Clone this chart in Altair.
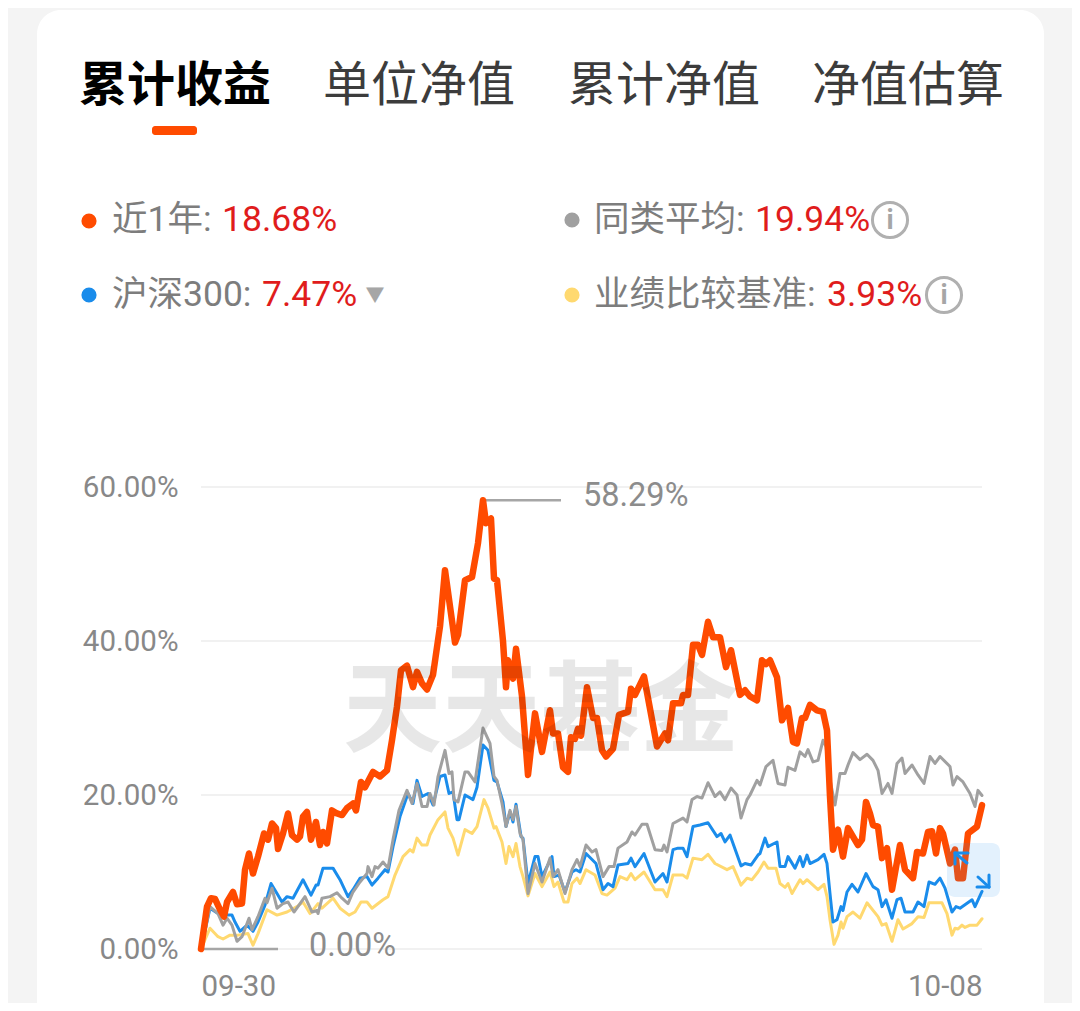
import altair as alt
import pandas as pd

orange_t = [0,6,10,14,19,23,26,32,36,41,44,48,52,57,63,67,71,75,77,82,87,91,96,99,102,106,110,115,119,122,126,131,136,141,146,152,155,160,164,172,179,186,191,196,200,206,212,216,221,226,232,239,244,249,254,257,264,271,277,282,285,290,293,296,302,305,307,312,315,321,327,334,341,349,352,357,362,367,370,374,377,380,386,392,396,401,405,412,418,427,430,434,443,456,464,467,472,480,482,487,492,497,501,507,512,519,525,530,539,544,549,556,561,565,569,576,581,587,592,596,601,604,609,616,622,626,629,632,637,642,647,652,657,661,665,669,672,677,681,686,691,699,704,712,716,722,727,731,735,739,742,749,754,757,762,767,776,781]
orange_v = [0,5.5,6.6,6.5,5.1,4.2,6.1,7.4,5.8,5.9,10.3,12.4,9.8,12,15,14.2,16.3,15.7,13,15,17.6,14.8,14.2,14.6,17.2,17.8,14.2,16.5,13.5,15.2,13.7,18,17.6,17.4,18.3,18.9,18,21.7,21,23,22.4,23.2,27.1,31.5,36.2,36.8,34,36,34.5,33.7,35.6,41.9,49.2,44.5,39.8,40.8,47.9,48.3,52.7,58.29,55.3,55.9,48.1,47.9,40,34,37.5,35.1,39,32.8,22.6,30.6,25.6,31,28,28,23.6,23,27.5,27.3,28.6,27.7,34,30,30,25.8,25,26,30.4,30.8,33.8,33,35.4,26.3,28,27.1,31.9,31.9,33,33,39.5,39.5,38.2,42.5,40.5,40.5,36.6,38.8,33,33.6,32.8,32.3,37.5,37,37.5,35.3,29.7,31.3,26.9,26.7,30,30,31.7,31,30.8,28.4,19.8,12.9,15.5,12,15.7,14.6,13.5,14.2,19.1,17.6,16.1,15.9,11.8,13.1,7.7,13.5,10.3,9.2,12.6,12.4,15.2,15.3,12.4,15.7,15,11.1,12.9,9.2,9.2,15,15.9,18.68]

gray_t = [0,9,17,22,26,31,36,41,48,51,57,64,66,71,76,82,87,93,104,111,116,117,121,129,136,141,147,152,159,166,167,171,174,177,182,187,192,198,206,211,216,221,226,229,233,237,244,248,251,253,257,264,267,274,282,289,293,296,301,305,309,312,315,319,322,327,334,341,349,352,357,364,371,376,379,385,391,395,402,408,413,417,426,431,434,441,446,454,461,463,466,472,482,486,491,496,501,507,514,519,524,530,536,540,546,549,556,559,565,572,577,584,587,594,599,604,607,612,617,622,625,629,634,639,644,647,652,659,666,672,677,681,687,691,696,701,704,711,717,723,729,734,739,749,752,756,762,769,774,777,781]
gray_v = [0,5.5,4.6,3.1,4,3.1,1,1.6,4,2.5,4.2,6.6,6,7.9,5.3,5.9,6.1,4.8,6.8,4.8,5,4.6,6.6,6.8,7.3,6.6,5.9,7.4,8.7,9.8,10.7,9.4,10.7,10.5,11.3,10.5,14.2,18,20.6,18.9,21.5,18.5,18.5,20.2,18.7,22.4,25.8,22.8,23,19.4,19.1,23,23,21.7,28.7,26.7,22.4,21.9,18.9,15.9,18,16.8,18.5,15,14.2,7.2,11.1,8.7,11.8,9.4,10.3,7.2,10.3,11.6,10.7,13.5,12.6,12.9,9.4,10.7,10.7,13.1,13.9,15.2,14.8,16.2,16.2,12.9,12.8,13.5,12.6,16.3,17,16.5,19.4,19.8,19.6,21.6,19.8,20.4,19.4,20.9,20,17,19.4,20,21.9,21.3,23.7,24.5,21.5,21.3,23.6,23.2,25.6,25,25.9,24.3,24.5,27.1,26.3,22,18.7,22.8,22.8,23.9,25.5,24.6,25.3,24.5,23.2,20.2,21.5,20.2,24.1,24.8,22.8,23.9,22.6,21.5,25,24.1,25,23.7,21.3,22.4,21.7,20.2,18.5,20.6,19.94]

blue_t = [0,9,17,24,31,34,39,46,52,57,64,70,76,81,86,92,102,110,115,117,122,132,139,147,152,159,166,171,177,184,187,192,199,207,212,216,221,227,232,239,244,248,252,256,258,264,272,276,282,287,293,296,302,305,309,312,315,320,322,327,334,337,341,351,353,358,364,371,375,379,385,395,402,407,412,417,427,430,434,443,454,462,466,472,477,482,486,492,499,507,516,520,524,529,540,544,550,557,559,564,567,576,579,584,587,594,599,602,606,609,617,623,626,629,632,636,640,642,646,651,657,665,672,677,681,685,691,696,700,704,712,717,723,728,734,739,744,751,755,759,771,774,781]
blue_v = [0,5.3,4.6,4.4,4.4,3.5,2.3,3.1,2.3,3.5,5.7,8.5,7.2,6.1,6.8,6.6,9,7,8.3,8.3,10.5,10.5,9,6.8,7.7,9.2,9.4,8.3,9.2,10.3,10,13.3,17.2,20.2,18.9,21.9,19.8,20.2,18.7,22.4,22.6,20.2,20.4,16.8,16.8,20,19.4,21,26.5,25.8,21.9,21.7,19.1,15.9,17.8,16.5,18.8,14.6,14.4,8.5,12,12,9.4,12,9.4,9.6,7.4,10,10.3,10,12.4,11.1,7.7,8.5,8.1,10.9,11.1,11.8,10.7,12.4,8.7,9.8,8.7,12.9,13.1,13.1,12,15.9,16.1,16.4,14.6,15,13.9,14.8,10.8,11.1,10.9,12.2,12.4,14.4,13.3,13.9,10.7,10.7,12,10.5,12,10.7,12.2,11.1,11.6,12.3,11.1,7.2,3.5,3.8,5.5,5,7.4,8.4,7.4,9.8,8.1,7.7,5.5,6.4,4,6.4,6.6,4.8,4.8,6.1,5.5,8.7,8.4,9.2,7.9,4.8,5.5,5.3,6.4,5.5,7.47]

yellow_t = [0,9,17,22,29,37,47,52,57,66,76,86,96,102,109,117,121,132,139,148,154,160,166,171,182,187,194,202,209,212,216,221,226,229,237,244,247,252,257,264,271,276,283,287,293,295,301,305,308,312,315,319,322,327,334,341,349,353,357,363,367,371,376,379,385,394,401,406,414,419,426,430,434,443,454,462,466,472,482,486,492,501,507,514,526,532,540,546,551,557,563,567,575,579,584,587,591,599,602,606,617,623,626,629,633,637,640,642,646,652,659,666,677,681,685,691,697,702,711,717,723,728,741,746,751,754,757,761,764,769,776,781]
yellow_v = [0,2.7,1.6,1.3,1.8,1.8,2,0.5,2,5.1,4.4,4.8,5.5,6.1,4.6,5.9,5.3,6.6,5.3,4.4,4.8,6.1,6.1,5.3,6.4,6.8,9.6,12,12.9,12.6,14.4,13.5,13.5,14.8,16.8,17.8,15.7,14.4,12.2,15.5,15,15.9,19.4,18.3,15.7,15.9,13.9,11.1,13.3,12,13.7,10.7,9.4,6.9,9.8,8.1,10,8.1,8.7,6.1,6.1,8.5,9.2,8.5,10.3,9.6,7.2,7,7.9,9.4,9,9.8,9,10,7.7,7.7,6.8,9.6,9.6,9.2,11.8,11.6,12.3,11.1,10.3,10.7,8.3,9.2,9,10,11.3,10.5,10.5,8.5,8,8.5,7.2,9,8.5,9,7.7,8.4,6.8,3.8,0.6,1.8,3.5,2.7,4.2,4.8,4,6,4.2,3.1,3.3,1,3.8,2.6,3.3,4.2,4.1,6,6,4.6,1.8,2.7,2.6,3.1,2.8,3.1,3.1,3.93]

grid_values = [0, 20, 40, 60]
tabs = ["累计收益", "单位净值", "累计净值", "净值估算"]
legend_names = ["近1年:", "沪深300:", "同类平均:", "业绩比较基准:"]
legend_values = ["18.68%", "7.47%", "19.94%", "3.93%"]
x_labels = ["09-30", "10-08"]

OX, OY = 201, 487          # screen position of the plot origin
W, H = 781, 462
CJK = "Roboto, 'Noto Sans CJK SC', sans-serif"
ORANGE, BLUE, GRAY, YELLOW = "#ff4b00", "#1a8ceb", "#a0a0a0", "#ffd970"
RED, TXT = "#e01c1c", "#7d7d7d"

one = pd.DataFrame({"a": [0]})
xs = alt.Scale(domain=[0, W], nice=False, zero=False)
ys = alt.Scale(domain=[0, 60], nice=False)


def sx(v):
    return alt.value(v - OX)


def sy(v):
    return alt.value(v - OY)


def text(s, x, y, size, color, weight="normal", align="left", opacity=1.0):
    return alt.Chart(one).mark_text(
        text=s, font=CJK, fontSize=size, color=color, fontWeight=weight,
        align=align, baseline="middle", opacity=opacity
    ).encode(x=sx(x), y=sy(y))


def box(x0, y0, x1, y1, color, radius=0, opacity=1.0):
    return alt.Chart(one).mark_rect(
        color=color, cornerRadius=radius, opacity=opacity
    ).encode(x=sx(x0), x2=sx(x1), y=sy(y0), y2=sy(y1))


def seg(x0, y0, x1, y1, color, width):
    return alt.Chart(one).mark_rule(
        color=color, strokeWidth=width, strokeCap="round"
    ).encode(x=sx(x0), x2=sx(x1), y=sy(y0), y2=sy(y1))


def dot(x, y, size, color):
    return alt.Chart(one).mark_point(
        filled=True, size=size, color=color, opacity=1, shape="circle"
    ).encode(x=sx(x), y=sy(y))


def ring(x, y, size):
    return alt.Chart(one).mark_point(
        filled=False, size=size, color="#b0b0b0", strokeWidth=3, opacity=1, shape="circle"
    ).encode(x=sx(x), y=sy(y))


def series(t, v, color, width):
    df = pd.DataFrame({"t": t, "v": v})
    return alt.Chart(df).mark_line(
        color=color, strokeWidth=width, strokeJoin="round", strokeCap="round"
    ).encode(
        x=alt.X("t:Q", scale=xs, axis=alt.Axis(
            values=[0, W], title=None, grid=False, domain=False, ticks=False,
            labelExpr=f"datum.value==0?'{x_labels[0]}':'{x_labels[1]}'",
            labelAlign=alt.expr("datum.value==0?'left':'right'"),
            labelFont=CJK, labelFontSize=29.5, labelColor="#888888",
            labelPadding=23, labelBound=False, labelFlush=False, zindex=1)),
        y=alt.Y("v:Q", scale=ys, axis=alt.Axis(
            values=grid_values, title=None, grid=False, domain=False, ticks=False,
            labelExpr="format(datum.value,'.2f')+'%'",
            labelFont=CJK, labelFontSize=29.5, labelColor="#888888",
            labelPadding=23, zindex=1)),
    )


grid = alt.Chart(pd.DataFrame({"g": grid_values})).mark_rule(
    color="#ececec", strokeWidth=1.5
).encode(y=alt.Y("g:Q", scale=ys), x=alt.value(0), x2=alt.value(W))

peak = pd.DataFrame({"t": [282], "t2": [360], "v": [58.29]})
low = pd.DataFrame({"t": [0], "t2": [77], "v": [0.0]})


def leader(df):
    return alt.Chart(df).mark_rule(color="#a6a6a6", strokeWidth=2.5).encode(
        x=alt.X("t:Q", scale=xs), x2="t2:Q", y=alt.Y("v:Q", scale=ys))


layers = [
    box(37, 10, 1044, 1100, "#ffffff", radius=24),
    grid,
    text(tabs[0], 79, 87, 48, "#000000", weight="bold"),
    text(tabs[1], 323, 87, 48, "#3c3c3c"),
    text(tabs[2], 568, 87, 48, "#3c3c3c"),
    text(tabs[3], 812, 87, 48, "#3c3c3c"),
    box(152, 126, 197, 135, ORANGE, radius=3),
    dot(89, 221, 230, ORANGE),
    dot(89, 295, 230, BLUE),
    dot(572, 220, 230, GRAY),
    dot(572, 295, 230, YELLOW),
    text(legend_names[0], 112, 220, 35.5, TXT),
    text(legend_values[0], 222, 220, 35.5, RED),
    text(legend_names[1], 112, 295, 35.5, TXT),
    text(legend_values[1], 262, 295, 35.5, RED),
    text("▼", 375, 296, 19, "#a6a6a6", align="center"),
    text(legend_names[2], 594, 220, 35.5, TXT),
    text(legend_values[2], 755, 220, 35.5, RED),
    ring(890, 220, 1230),
    text("i", 890, 221, 27, "#a6a6a6", weight="bold", align="center"),
    text(legend_names[3], 594, 295, 35.5, TXT),
    text(legend_values[3], 827, 295, 35.5, RED),
    ring(944, 295, 1230),
    text("i", 944, 296, 27, "#a6a6a6", weight="bold", align="center"),
    leader(peak),
    leader(low),
    text("58.29%", 583, 496, 32.5, "#8c8c8c"),
    text("0.00%", 309, 946, 32.5, "#8c8c8c"),
    series(yellow_t, yellow_v, YELLOW, 3),
    series(blue_t, blue_v, BLUE, 3),
    series(gray_t, gray_v, GRAY, 3),
    series(orange_t, orange_v, ORANGE, 6.5),
    text("天天基金", 541, 714, 99, "#000000", weight="bold", align="center", opacity=0.09),
    box(947, 843, 1000, 897, BLUE, radius=8, opacity=0.12),
    seg(955, 853, 967, 863, BLUE, 3), seg(955, 853, 968, 853, BLUE, 3), seg(955, 853, 955, 864, BLUE, 3),
    seg(989, 887, 978, 877, BLUE, 3), seg(989, 887, 977, 887, BLUE, 3), seg(989, 887, 989, 875, BLUE, 3),
]

chart = alt.layer(*layers).properties(
    width=W, height=H,
    background="#f4f4f4",
    padding={"left": OX - 8, "top": OY - 8, "right": 1072 - (OX + W), "bottom": 54},
    autosize=alt.AutoSizeParams(type="none"),
).configure_view(stroke=None)

chart.save("out.html", embed_options={"renderer": "svg", "actions": False})
